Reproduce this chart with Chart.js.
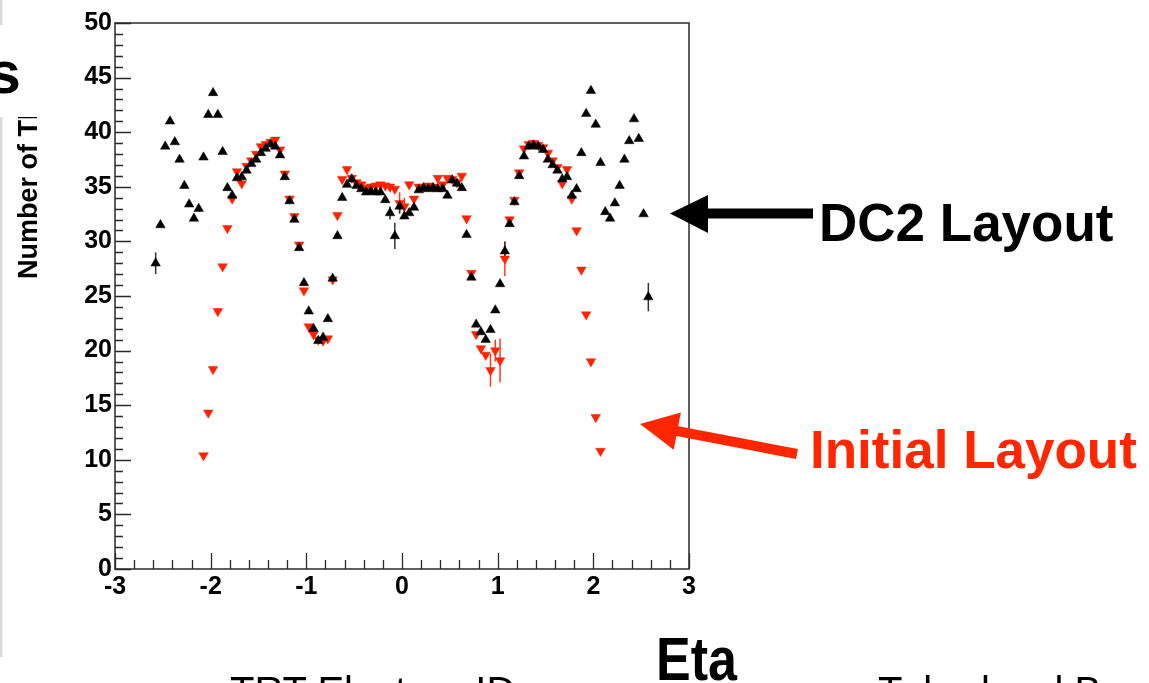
<!DOCTYPE html>
<html><head><meta charset="utf-8">
<script src="https://cdn.jsdelivr.net/npm/chart.js@4.4.0/dist/chart.umd.min.js"></script>
<style>
html,body{margin:0;padding:0;background:#fff;overflow:hidden;}
#wrap{position:relative;width:1149px;height:683px;overflow:hidden;background:#fff;}
canvas{position:absolute;left:0;top:0;}
svg{position:absolute;left:0;top:0;}
</style></head><body>
<div id="wrap">
<canvas id="c" width="1149" height="683"></canvas>
<svg width="1149" height="683" xmlns="http://www.w3.org/2000/svg" font-family="Liberation Sans, Arial, Helvetica, sans-serif">
  <rect x="0" y="0" width="2.5" height="657" fill="#dedad6"/>
  <text transform="translate(37,279) rotate(-90)" font-size="27" font-weight="bold" fill="#000">Number of TRT Hits</text>
  <rect x="0" y="25" width="62" height="92" fill="#fff"/>
  <text x="-12" y="93" font-size="59" font-weight="bold" fill="#000">s</text>
  <!-- black arrow -->
  <line x1="706" y1="213.5" x2="813" y2="213.5" stroke="#000" stroke-width="10"/>
  <polygon points="670,213.5 708,195 708,233" fill="#000"/>
  <text x="819" y="241" font-size="53" font-weight="bold" fill="#000">DC2 Layout</text>
  <!-- red arrow -->
  <line x1="675" y1="430.6" x2="797" y2="454" stroke="#ff2600" stroke-width="10"/>
  <polygon points="640,424 680.9,412.4 673.7,449.8" fill="#ff2600"/>
  <text x="810" y="468" font-size="53" font-weight="bold" fill="#ff2600">Initial Layout</text>
  <text transform="translate(656,680) scale(0.84,1)" font-size="62" font-weight="bold" fill="#000">Eta</text>
  <text x="230" y="705" font-size="40" fill="#000">TRT Electron ID</text>
  <text x="878" y="705" font-size="40" fill="#000">Tube-level Barrel</text>
</svg>
</div>
<script>
// bin centres in eta
const eta = [-2.575,-2.525,-2.475,-2.425,-2.375,-2.325,-2.275,-2.225,-2.175,-2.125,
 -2.075,-2.025,-1.975,-1.925,-1.875,-1.825,-1.775,-1.725,-1.675,-1.625,
 -1.575,-1.525,-1.475,-1.425,-1.375,-1.325,-1.275,-1.225,-1.175,-1.125,
 -1.075,-1.025,-0.975,-0.925,-0.875,-0.825,-0.775,-0.725,-0.675,-0.625,
 -0.575,-0.525,-0.475,-0.425,-0.375,-0.325,-0.275,-0.225,-0.175,-0.125,
 -0.075,-0.025,0.025,0.075,0.125,0.175,0.225,0.275,0.325,0.375,
 0.425,0.475,0.525,0.575,0.625,0.675,0.725,0.775,0.825,0.875,
 0.925,0.975,1.025,1.075,1.125,1.175,1.225,1.275,1.325,1.375,
 1.425,1.475,1.525,1.575,1.625,1.675,1.725,1.775,1.825,1.875,
 1.925,1.975,2.025,2.075,2.125,2.175,2.225,2.275,2.325,2.375,
 2.425,2.475,2.525,2.575];
// DC2 layout (black up triangles)
const dc2Hits = [28.0,31.5,38.7,41.0,39.1,37.5,35.1,33.4,32.1,33.0,
 37.7,41.6,43.6,41.6,38.2,34.9,34.2,35.8,35.9,36.5,
 37.1,37.5,38.1,38.5,38.9,38.7,37.9,35.9,33.7,32.0,
 29.4,26.2,23.6,22.0,20.9,21.2,22.9,26.6,30.5,34.0,
 35.2,35.7,35.1,34.8,34.5,34.6,34.5,34.5,33.8,32.6,
 30.5,33.2,32.3,32.6,33.1,34.7,34.9,34.8,34.9,34.8,
 34.8,34.2,35.6,35.3,34.9,30.6,26.7,22.4,21.7,21.0,
 21.9,23.7,26.1,29.1,31.6,33.6,36.0,37.8,38.7,38.8,
 38.7,38.4,37.5,37.0,36.5,35.7,35.9,34.2,34.8,38.1,
 41.7,43.8,40.7,37.2,32.7,32.1,33.5,35.1,37.5,39.2,
 41.2,39.4,32.5,24.9];
// Initial layout (red down triangles)
const initialHits = [null,null,null,null,null,null,null,null,null,null,
 10.4,14.3,18.3,23.6,27.7,31.2,33.9,36.4,35.3,36.9,
 37.4,38.0,38.7,38.9,39.1,39.3,38.4,36.2,33.9,32.3,
 29.7,25.5,22.2,21.5,21.0,20.9,21.1,26.5,32.4,35.7,
 36.6,35.8,35.4,35.2,34.9,35.0,35.1,35.2,35.1,35.0,
 34.8,33.5,33.2,35.2,33.9,35.0,35.0,35.1,35.0,35.8,
 35.2,35.8,35.7,35.4,36.0,32.1,27.1,21.5,20.2,19.6,
 18.2,20.0,19.1,28.4,32.0,33.8,36.3,38.5,38.9,39.0,
 38.8,38.6,38.1,37.4,36.8,35.3,36.6,33.9,31.0,27.4,
 23.3,19.0,13.9,10.8,null,null,null,null,null,null,
 null,null,null,null];
// [bin index, error] for visible error bars
const dc2Errors = [[0,1.0],[49,0.6],[50,1.2],[51,0.6],[73,0.9],[103,1.3]];
const initialErrors = [[51,1.0],[52,0.8],[70,1.5],[71,1.0],[72,2.0],[73,1.6]];
const xTickLabels = [-3,-2,-1,0,1,2,3];
const yTickLabels = [0,5,10,15,20,25,30,35,40,45,50];

const framePlugin = {
  id:'rootFrame',
  beforeDatasetsDraw(chart){
    const ctx = chart.ctx, xs = chart.scales.x, ys = chart.scales.y;
    ctx.save();
    ctx.lineWidth = 1.5;
    const drawErr = (errs, vals, color) => {
      ctx.strokeStyle = color;
      errs.forEach(([i,e]) => {
        const v = vals[i]; if (v == null) return;
        const px = xs.getPixelForValue(eta[i]);
        ctx.beginPath();
        ctx.moveTo(px, ys.getPixelForValue(v - e));
        ctx.lineTo(px, ys.getPixelForValue(v + e));
        ctx.stroke();
      });
    };
    drawErr(initialErrors, initialHits, '#ff3a1a');
    drawErr(dc2Errors, dc2Hits, '#333');
    ctx.restore();
  },
  afterDatasetsDraw(chart){
    const ctx = chart.ctx, a = chart.chartArea, xs = chart.scales.x, ys = chart.scales.y;
    ctx.save();
    ctx.strokeStyle = '#2a2a2a';
    ctx.lineWidth = 1.5;
    ctx.strokeRect(a.left, a.top, a.right - a.left, a.bottom - a.top);
    ctx.lineWidth = 1.3;
    ctx.beginPath();
    for (let v = 0; v <= 50; v += 1) {
      const py = Math.round(ys.getPixelForValue(v)) + 0.5;
      const len = (v % 5 === 0) ? 16 : 8;
      ctx.moveTo(a.left, py); ctx.lineTo(a.left + len, py);
    }
    for (let k = -15; k <= 15; k++) {
      const v = k / 5;
      const px = Math.round(xs.getPixelForValue(v)) + 0.5;
      const len = (k % 5 === 0) ? 16 : 9;
      ctx.moveTo(px, a.bottom); ctx.lineTo(px, a.bottom - len);
    }
    ctx.stroke();
    ctx.restore();
  }
};

const tickFont = {family:'Liberation Sans, Arial, sans-serif', weight:'bold', size:25};

new Chart(document.getElementById('c').getContext('2d'), {
  type:'scatter',
  data:{datasets:[
    {label:'DC2 Layout', data: eta.map((x,i)=>({x, y: dc2Hits[i]})),
     pointStyle:'triangle', pointRotation:0, pointRadius:5.5, pointBorderWidth:0.5,
     backgroundColor:'#000', borderColor:'#000'},
    {label:'Initial Layout', data: eta.map((x,i)=>({x, y: initialHits[i]})),
     pointStyle:'triangle', pointRotation:180, pointRadius:5.5, pointBorderWidth:0.5,
     backgroundColor:'#ff2200', borderColor:'#ff2200'}
  ]},
  options:{
    responsive:false, animation:false, events:[],
    layout:{padding:{left:75, top:23, right:460, bottom:74}},
    plugins:{legend:{display:false}, tooltip:{enabled:false}},
    scales:{
      x:{type:'linear', min:-3, max:3,
         grid:{display:false, drawTicks:false}, border:{display:false},
         afterBuildTicks: s => { s.ticks = xTickLabels.map(v => ({value:v})); },
         afterFit: s => { s.height = 40; },
         ticks:{font:tickFont, color:'#000', padding:3, maxRotation:0, autoSkip:false}},
      y:{type:'linear', min:0, max:50,
         grid:{display:false, drawTicks:false}, border:{display:false},
         afterBuildTicks: s => { s.ticks = yTickLabels.map(v => ({value:v})); },
         afterFit: s => { s.width = 40; },
         ticks:{font:tickFont, color:'#000', padding:3, autoSkip:false}}
    }
  },
  plugins:[framePlugin]
});
</script>
</body></html>
